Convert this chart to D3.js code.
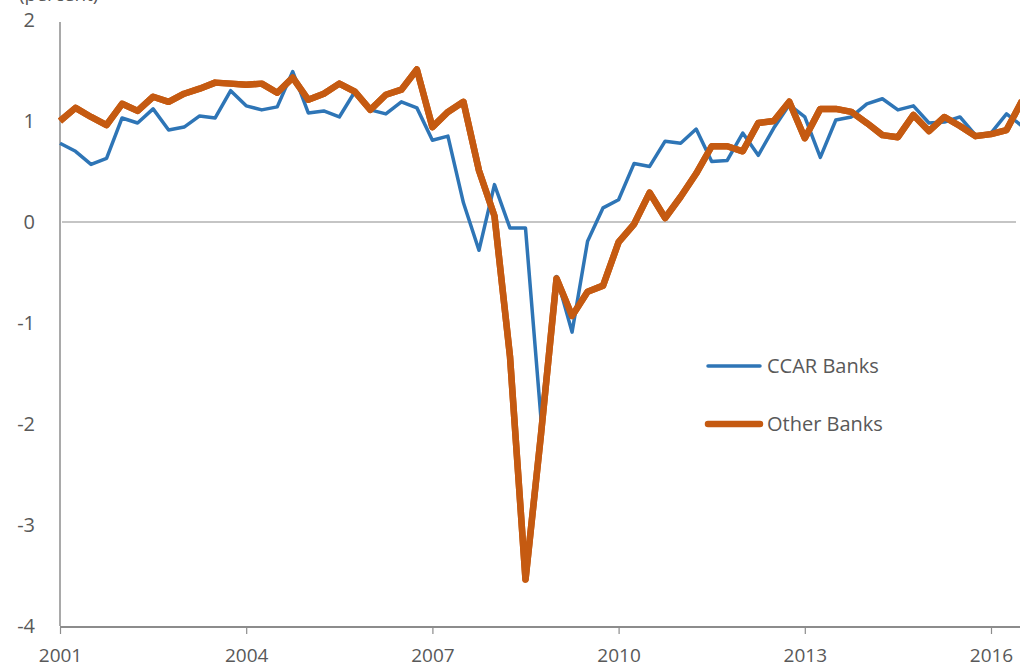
<!DOCTYPE html>
<html>
<head>
<meta charset="utf-8">
<script src="https://cdn.jsdelivr.net/npm/d3@7"></script>
<style>
  body { margin: 0; background: #fff; }
  text { font-family: "Open Sans", "Noto Sans", sans-serif; fill: #595959; }
</style>
</head>
<body>
<div id="chart"></div>
<script>
// quarterly series, starting 2001 Q1
const startYear = 2001
const ccarBanks = [
  0.78, 0.70, 0.57, 0.63, 1.03, 0.98, 1.12, 0.91, 0.94, 1.05,
  1.03, 1.30, 1.15, 1.11, 1.14, 1.49, 1.08, 1.10, 1.04, 1.29,
  1.11, 1.07, 1.19, 1.13, 0.81, 0.85, 0.19, -0.28, 0.37, -0.06,
  -0.06, -1.95, -0.54, -1.09, -0.19, 0.14, 0.22, 0.58, 0.55, 0.80,
  0.78, 0.92, 0.60, 0.61, 0.88, 0.66, 0.93, 1.16, 1.04, 0.64,
  1.01, 1.04, 1.17, 1.22, 1.11, 1.15, 0.98, 0.99, 1.04, 0.86,
  0.88, 1.07, 0.95
]
const otherBanks = [
  1.00, 1.13, 1.04, 0.96, 1.17, 1.10, 1.24, 1.19, 1.27, 1.32,
  1.38, 1.37, 1.36, 1.37, 1.28, 1.43, 1.21, 1.27, 1.37, 1.29,
  1.11, 1.26, 1.31, 1.51, 0.94, 1.09, 1.19, 0.51, 0.06, -1.33,
  -3.54, -2.10, -0.56, -0.93, -0.69, -0.63, -0.20, -0.02, 0.29, 0.04,
  0.25, 0.48, 0.75, 0.75, 0.70, 0.98, 1.00, 1.19, 0.83, 1.12,
  1.12, 1.09, 0.98, 0.86, 0.84, 1.06, 0.90, 1.04, 0.95, 0.85,
  0.87, 0.91, 1.20
]
const yearTicks = [2001, 2004, 2007, 2010, 2013, 2016]
const valueTicks = [2, 1, 0, -1, -2, -3, -4]
const seriesNames = ["CCAR Banks", "Other Banks"]

const width = 1020
const height = 669

const svg = d3.select("#chart")
  .append("svg")
    .attr("width", width)
    .attr("height", height)

const x = d3.scaleLinear()
  .domain([2001, 2016])
  .range([60, 991])

const y = d3.scaleLinear()
  .domain([-4, 2])
  .range([626, 20])

// "(percent)" label, cut off by the top edge as in the source image
svg.append("text")
  .attr("x", 19)
  .attr("y", 1)
  .style("font-size", "19px")
  .text("(percent)")

// zero line
svg.append("line")
  .attr("x1", x(2001) + 2).attr("x2", 1016)
  .attr("y1", y(0)).attr("y2", y(0))
  .attr("stroke", "#8c8c8c")
  .attr("stroke-width", 1.2)

// y axis
const yAxis = svg.append("g")
  .attr("transform", `translate(${x(2001)},0)`)
  .call(d3.axisLeft(y).tickValues(valueTicks).tickSize(0).tickPadding(25).tickFormat(d => String(d)))
yAxis.select(".domain").remove()
yAxis.append("line")
  .attr("y1", y(2) + 2).attr("y2", y(-4))
  .attr("stroke", "#8c8c8c").attr("stroke-width", 1.5)
yAxis.selectAll("text")
  .style("font-size", "20px")
  .attr("fill", "#595959")

// x axis
const xAxis = svg.append("g")
  .attr("transform", `translate(0,${y(-4) + 1})`)
  .call(d3.axisBottom(x).tickValues(yearTicks).tickSize(7).tickPadding(15).tickFormat(d => String(d)))
xAxis.select(".domain")
  .attr("d", `M${x(2001)},0H${width}`)
  .attr("stroke", "#8c8c8c").attr("stroke-width", 2)
xAxis.selectAll(".tick line").attr("stroke", "#8c8c8c").attr("stroke-width", 1.2)
xAxis.selectAll("text")
  .style("font-size", "19px")
  .attr("fill", "#595959")

const line = d3.line()
  .x((d, i) => x(startYear + i / 4))
  .y(d => y(d))

svg.append("path")
  .datum(otherBanks)
  .attr("fill", "none")
  .attr("stroke", "#c55a11")
  .attr("stroke-width", 6.5)
  .attr("stroke-linejoin", "round")
  .attr("d", line)

svg.append("path")
  .datum(ccarBanks)
  .attr("fill", "none")
  .attr("stroke", "#2e75b6")
  .attr("stroke-width", 3.5)
  .attr("stroke-linejoin", "round")
  .attr("d", line)

// the orange line draws over the blue one in the reference
svg.append("path")
  .datum(otherBanks)
  .attr("fill", "none")
  .attr("stroke", "#c55a11")
  .attr("stroke-width", 6.5)
  .attr("stroke-linejoin", "round")
  .attr("d", line)

// legend
const legend = svg.append("g")
  .attr("transform", "translate(708,366)")
const legendColors = ["#2e75b6", "#c55a11"]
const legendWidths = [3.5, 6.5]
seriesNames.forEach((name, i) => {
  const g = legend.append("g").attr("transform", `translate(0,${i * 58})`)
  g.append("line")
    .attr("x1", 0).attr("x2", 52)
    .attr("stroke", legendColors[i])
    .attr("stroke-width", legendWidths[i])
    .attr("stroke-linecap", "round")
  g.append("text")
    .attr("x", 59)
    .attr("dy", "0.35em")
    .style("font-size", "20px")
    .text(name)
})
</script>
</body>
</html>
